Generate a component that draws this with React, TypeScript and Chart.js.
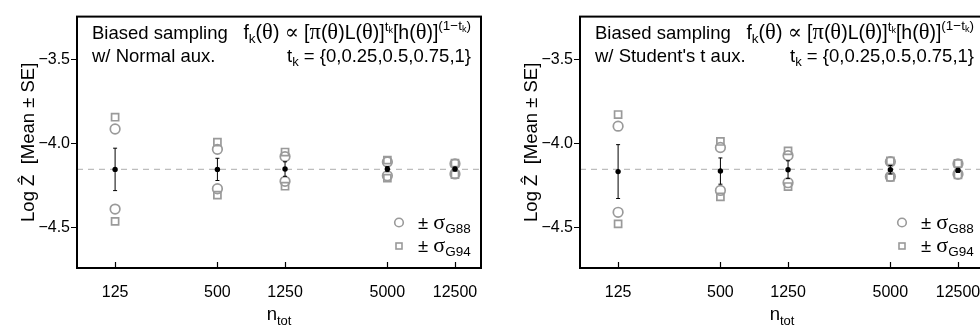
import React, { useEffect, useRef } from "react";
import { Chart, registerables } from "chart.js";

Chart.register(...registerables);

// ---------- data ----------
const nTot = [125, 500, 1250, 5000, 12500];
const refLine = -4.155;

const leftMean = [-4.155, -4.155, -4.153, -4.153, -4.153];
const leftSE = [0.126, 0.066, 0.043, 0.016, 0.01];
const leftG88Hi = [-3.915, -4.036, -4.079, -4.111, -4.122];
const leftG88Lo = [-4.391, -4.27, -4.226, -4.193, -4.182];
const leftG94Hi = [-3.845, -3.993, -4.052, -4.1, -4.118];
const leftG94Lo = [-4.464, -4.308, -4.255, -4.207, -4.186];

const rightMean = [-4.168, -4.165, -4.157, -4.157, -4.161];
const rightSE = [0.16, 0.078, 0.053, 0.025, 0.012];
const rightG88Hi = [-3.898, -4.025, -4.073, -4.109, -4.122];
const rightG88Lo = [-4.41, -4.28, -4.234, -4.197, -4.184];
const rightG94Hi = [-3.829, -3.989, -4.045, -4.105, -4.12];
const rightG94Lo = [-4.479, -4.318, -4.257, -4.203, -4.188];

const yTicks = [-4.5, -4.0, -3.5];

const SANS = '"Liberation Sans", Arial, Helvetica, sans-serif';
const SERIF = '"Liberation Serif", "DejaVu Serif", serif';
const GRAY = "#9a9a9a";

type Seg = [string, number, number, boolean?];

function drawRich(
  ctx: CanvasRenderingContext2D,
  segs: Seg[],
  x: number,
  y: number,
  align: "left" | "right" | "center"
) {
  const widths = segs.map(([t, size, , serif]) => {
    ctx.font = `${size}px ${serif ? SERIF : SANS}`;
    return ctx.measureText(t).width;
  });
  const total = widths.reduce((a, b) => a + b, 0);
  let cx = align === "left" ? x : align === "right" ? x - total : x - total / 2;
  ctx.textAlign = "left";
  ctx.textBaseline = "alphabetic";
  segs.forEach(([t, size, dy, serif], i) => {
    ctx.font = `${size}px ${serif ? SERIF : SANS}`;
    ctx.fillText(t, cx, y + dy);
    cx += widths[i];
  });
}

interface PanelProps {
  mean: number[];
  se: number[];
  g88Hi: number[];
  g88Lo: number[];
  g94Hi: number[];
  g94Lo: number[];
  aux: string;
  left: number;
}

function Panel(p: PanelProps) {
  const ref = useRef<HTMLCanvasElement>(null);
  useEffect(() => {
    const canvas = ref.current!;
    const decor = {
      id: "decor",
      beforeDatasetsDraw(chart: any) {
        const { ctx, chartArea: a, scales } = chart;
        const y = scales.y.getPixelForValue(refLine);
        ctx.save();
        ctx.strokeStyle = "#bdbdbd";
        ctx.lineWidth = 1.3;
        ctx.setLineDash([6, 5]);
        ctx.beginPath();
        ctx.moveTo(a.left, y);
        ctx.lineTo(a.right, y);
        ctx.stroke();
        ctx.restore();
      },
      afterDatasetsDraw(chart: any) {
        const { ctx, scales } = chart;
        ctx.save();
        ctx.strokeStyle = "#000";
        ctx.lineWidth = 1;
        nTot.forEach((n, i) => {
          const x = scales.x.getPixelForValue(n);
          const y1 = scales.y.getPixelForValue(p.mean[i] + p.se[i]);
          const y2 = scales.y.getPixelForValue(p.mean[i] - p.se[i]);
          ctx.beginPath();
          ctx.moveTo(x, y1);
          ctx.lineTo(x, y2);
          ctx.moveTo(x - 2, y1);
          ctx.lineTo(x + 2, y1);
          ctx.moveTo(x - 2, y2);
          ctx.lineTo(x + 2, y2);
          ctx.stroke();
        });
        ctx.restore();
      },
      afterDraw(chart: any) {
        const { ctx, chartArea: a, scales } = chart;
        ctx.save();
        // box
        ctx.strokeStyle = "#000";
        ctx.lineWidth = 2;
        ctx.strokeRect(a.left, a.top, a.right - a.left, a.bottom - a.top);
        ctx.lineWidth = 1.2;
        ctx.beginPath();
        nTot.forEach((n) => {
          const x = Math.round(scales.x.getPixelForValue(n)) + 0.5;
          ctx.moveTo(x, a.bottom);
          ctx.lineTo(x, a.bottom - 6);
        });
        yTicks.forEach((v) => {
          const y = Math.round(scales.y.getPixelForValue(v)) + 0.5;
          ctx.moveTo(a.left, y);
          ctx.lineTo(a.left - 6, y);
        });
        ctx.stroke();

        ctx.fillStyle = "#000";
        // annotation text
        drawRich(ctx, [["Biased sampling", 18.5, 0]], a.left + 15, 39, "left");
        drawRich(ctx, [[p.aux, 18.5, 0]], a.left + 15, 61.5, "left");
        const R = a.right - 10;
        drawRich(
          ctx,
          [
            ["f", 19.5, 0],
            ["k", 13.5, 4],
            ["(", 19.5, 0],
            ["θ", 22.5, 0, true],
            [")", 19.5, 0],
            [" ∝ ", 21, 0, true],
            ["[", 19.5, 0],
            ["π", 22.5, 0, true],
            ["(", 19.5, 0],
            ["θ", 22.5, 0, true],
            [")L(", 19.5, 0],
            ["θ", 22.5, 0, true],
            [")]", 19.5, 0],
            ["t", 13.5, -8],
            ["k", 9, -5.5],
            ["[h(", 19.5, 0],
            ["θ", 22.5, 0, true],
            [")]", 19.5, 0],
            ["(1−t", 13.5, -9],
            ["k", 9, -6.5],
            [")", 13.5, -9],
          ],
          R,
          38.5,
          "right"
        );
        drawRich(
          ctx,
          [
            ["t", 18.5, 0],
            ["k", 13, 4],
            [" = {0,0.25,0.5,0.75,1}", 18.5, 0],
          ],
          R,
          61.5,
          "right"
        );
        // legend
        const lx = a.left + 322;
        ctx.strokeStyle = GRAY;
        ctx.lineWidth = 1.6;
        ctx.beginPath();
        ctx.arc(lx, 222.5, 4.3, 0, Math.PI * 2);
        ctx.stroke();
        ctx.strokeRect(lx - 3, 243, 6, 6);
        ctx.fillStyle = "#000";
        drawRich(
          ctx,
          [
            ["± ", 18.5, 0],
            ["σ", 22, 0, true],
            ["G88", 13.5, 4],
          ],
          lx + 19,
          228.5,
          "left"
        );
        drawRich(
          ctx,
          [
            ["± ", 18.5, 0],
            ["σ", 22, 0, true],
            ["G94", 13.5, 4],
          ],
          lx + 19,
          252,
          "left"
        );
        // axis titles
        const cx = (a.left + a.right) / 2;
        drawRich(
          ctx,
          [
            ["n", 18.5, 0],
            ["tot", 13, 4.5],
          ],
          cx,
          320,
          "center"
        );
        ctx.translate(27, (a.top + a.bottom) / 2);
        ctx.rotate(-Math.PI / 2);
        drawRich(ctx, [["Log Ẑ  [Mean ± SE]", 18.5, 6.5]], 0, 0, "center");
        ctx.restore();
      },
    };

    const chart = new Chart(canvas, {
      type: "scatter",
      data: {
        datasets: [
          {
            label: "mean",
            data: nTot.map((n, i) => ({ x: n, y: p.mean[i] })),
            pointRadius: 2.7,
            pointBackgroundColor: "#000",
            pointBorderColor: "#000",
            pointBorderWidth: 0,
            order: 0,
          },
          {
            label: "G88",
            data: [
              ...nTot.map((n, i) => ({ x: n, y: p.g88Hi[i] })),
              ...nTot.map((n, i) => ({ x: n, y: p.g88Lo[i] })),
            ],
            pointStyle: "circle",
            pointRadius: 4.8,
            pointBackgroundColor: "rgba(0,0,0,0)",
            pointBorderColor: GRAY,
            pointBorderWidth: 1.7,
            order: 1,
          },
          {
            label: "G94",
            data: [
              ...nTot.map((n, i) => ({ x: n, y: p.g94Hi[i] })),
              ...nTot.map((n, i) => ({ x: n, y: p.g94Lo[i] })),
            ],
            pointStyle: "rect",
            pointRadius: 5,
            pointBackgroundColor: "rgba(0,0,0,0)",
            pointBorderColor: GRAY,
            pointBorderWidth: 1.7,
            order: 2,
          },
        ],
      },
      options: {
        animation: false,
        responsive: false,
        devicePixelRatio: 1,
        layout: { padding: { left: 0, right: 22, top: 8, bottom: 0 } },
        plugins: { legend: { display: false }, tooltip: { enabled: false } },
        scales: {
          x: {
            type: "logarithmic",
            min: 74.6,
            max: 17783,
            afterBuildTicks: (s: any) => {
              s.ticks = nTot.map((v) => ({ value: v }));
            },
            afterFit: (s: any) => {
              s.height = 59;
            },
            ticks: {
              callback: (v: any) => String(v),
              autoSkip: false,
              maxRotation: 0,
              padding: 15,
              color: "#000",
              font: { family: SANS, size: 16 },
            },
            grid: { display: false, drawTicks: false },
            border: { display: false },
          },
          y: {
            type: "linear",
            min: -4.741,
            max: -3.247,
            afterBuildTicks: (s: any) => {
              s.ticks = yTicks.map((v) => ({ value: v }));
            },
            afterFit: (s: any) => {
              s.width = 77;
            },
            ticks: {
              callback: (v: any) =>
                (v < 0 ? "\u2212" : "") + Math.abs(Number(v)).toFixed(1),
              padding: 7,
              color: "#000",
              font: { family: SANS, size: 16 },
            },
            grid: { display: false, drawTicks: false },
            border: { display: false },
          },
        },
      },
      plugins: [decor],
    } as any);
    return () => chart.destroy();
  }, []);
  return (
    <canvas
      ref={ref}
      width={503}
      height={327}
      style={{ position: "absolute", left: p.left, top: 0, width: 503, height: 327 }}
    />
  );
}

export default function App() {
  return (
    <div
      style={{
        position: "fixed",
        left: 0,
        top: 0,
        width: 980,
        height: 327,
        overflow: "hidden",
        background: "#fff",
      }}
    >
      <Panel
        mean={leftMean}
        se={leftSE}
        g88Hi={leftG88Hi}
        g88Lo={leftG88Lo}
        g94Hi={leftG94Hi}
        g94Lo={leftG94Lo}
        aux="w/ Normal aux."
        left={0}
      />
      <Panel
        mean={rightMean}
        se={rightSE}
        g88Hi={rightG88Hi}
        g88Lo={rightG88Lo}
        g94Hi={rightG94Hi}
        g94Lo={rightG94Lo}
        aux="w/ Student's t aux."
        left={503}
      />
    </div>
  );
}
